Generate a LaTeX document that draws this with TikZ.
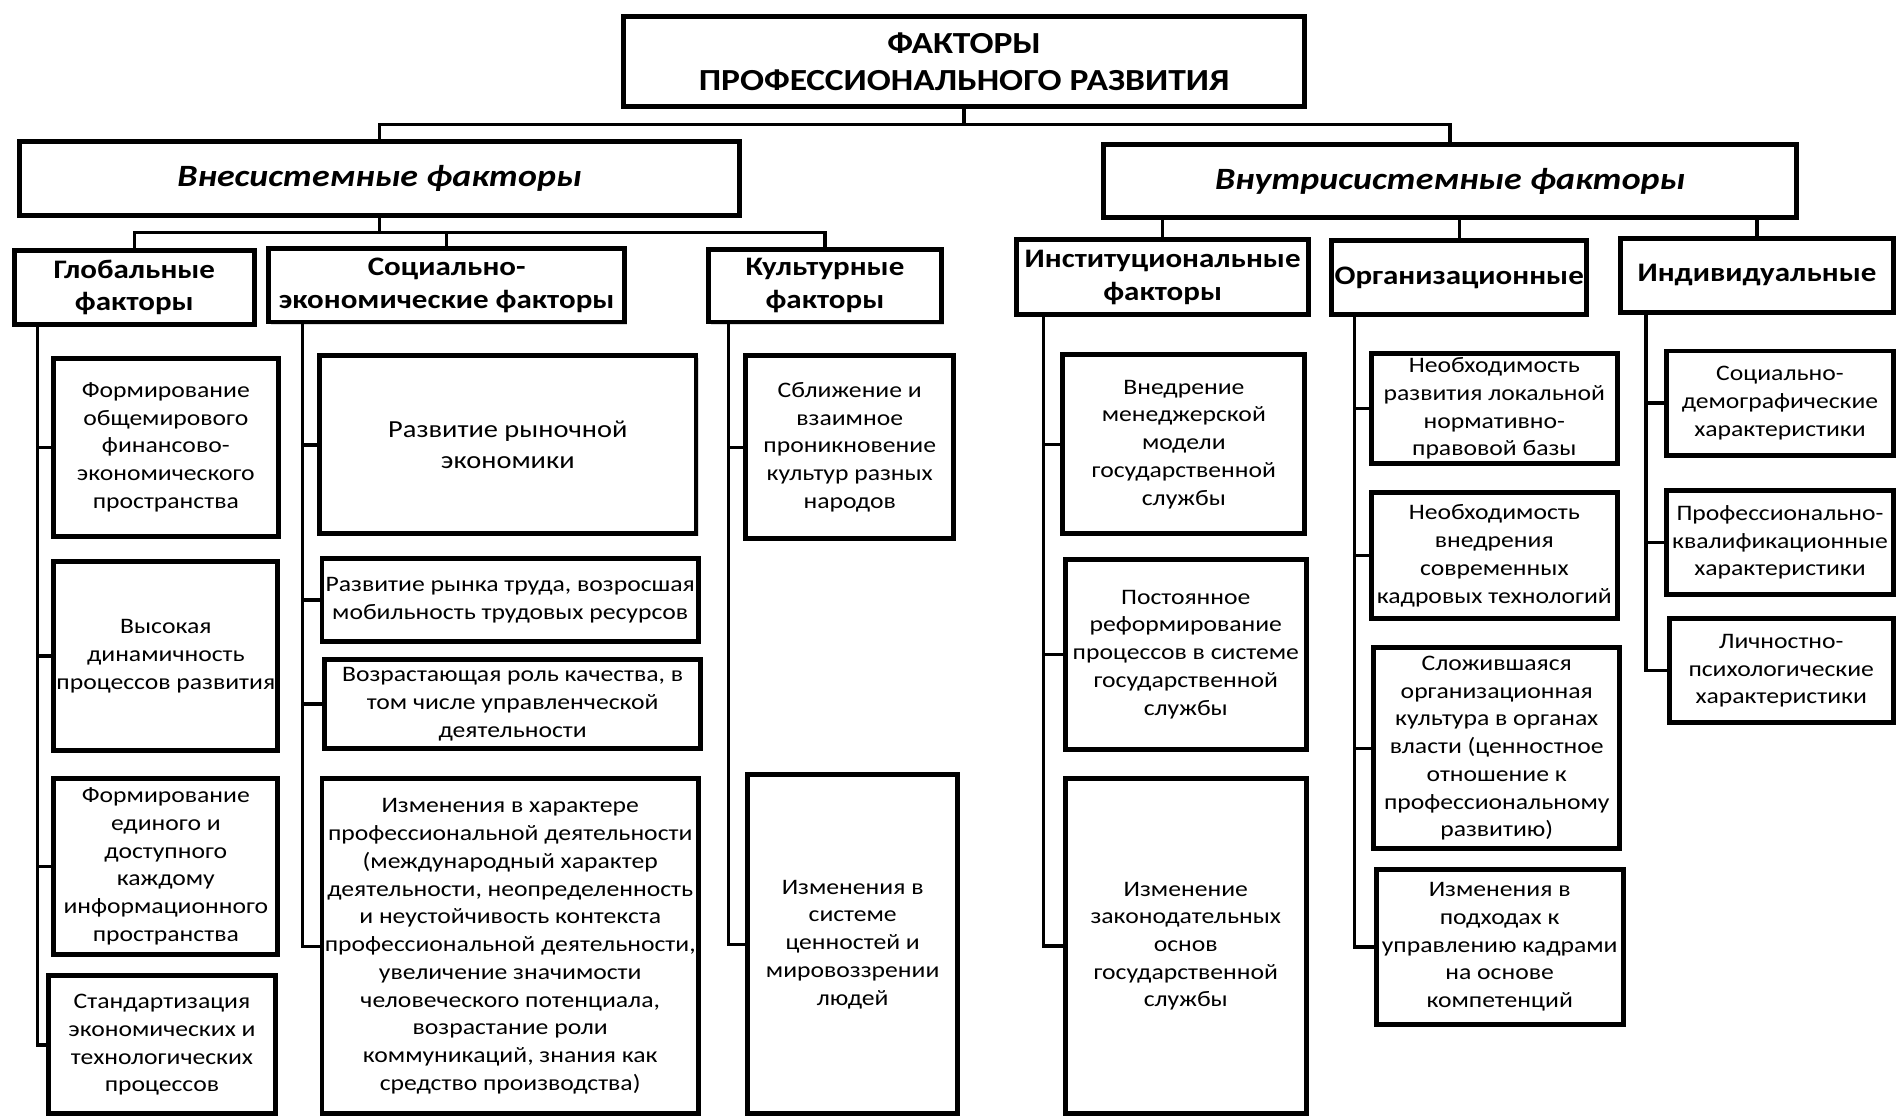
\documentclass[tikz,border=0pt]{standalone}
\usepackage{fontspec}
\setmainfont{Carlito}[FakeStretch=1.16]
\usepackage{tikz}
\usetikzlibrary{positioning,shadows}

\tikzstyle{factorbox} = [
    rectangle,                 % Shape
    draw=black,                % Border color
    line width=2.9pt,          % Heavy border
    fill=white,
    align=center,              % Centered text
    inner sep=1pt,
    drop shadow={shadow xshift=1.5pt, shadow yshift=-1.5pt, opacity=0.3}
]
\tikzstyle{titlenode} = [factorbox, font=\fontsize{18}{22}\selectfont\bfseries]
\tikzstyle{groupnode} = [factorbox, font=\fontsize{18.2}{22}\selectfont\bfseries\itshape]
\tikzstyle{headnode} = [factorbox, font=\fontsize{15.7}{19.2}\selectfont\bfseries]
\tikzstyle{itemnode} = [factorbox, font=\fontsize{13}{16.3}\selectfont]
\tikzstyle{link} = [line width=2pt]

\begin{document}
\begin{tikzpicture}
		\useasboundingbox (0,0) rectangle (39.2,-23.075);

		% Top-level node
		\node[titlenode, minimum width=14.075cm, minimum height=1.85cm] (title) at (19.9125,-1.275)
			{ФАКТОРЫ\\ПРОФЕССИОНАЛЬНОГО РАЗВИТИЯ};

		% Two groups
		\node[groupnode, minimum width=14.875cm, minimum height=1.525cm] (vne) at (7.8375,-3.6875) {Внесистемные факторы};
		\node[groupnode, minimum width=14.3cm, minimum height=1.525cm] (vnu) at (29.95,-3.7375) {Внутрисистемные факторы};

		% Outside-system factors
		\node[headnode, minimum width=4.95cm, minimum height=1.525cm] (glob) at (2.775,-5.9375) {Глобальные\\факторы};
		\node[headnode, minimum width=7.35cm, minimum height=1.525cm] (soc) at (9.225,-5.8875) {Социально-\\экономические факторы};
		\node[headnode, minimum width=4.825cm, minimum height=1.5cm] (kul) at (17.0375,-5.9) {Культурные\\факторы};

		% Inside-system factors
		\node[headnode, minimum width=6.025cm, minimum height=1.55cm] (inst) at (24.0125,-5.725) {Институциональные\\факторы};
		\node[headnode, minimum width=5.275cm, minimum height=1.525cm] (org) at (30.1375,-5.7375) {Организационные};
		\node[headnode, minimum width=5.625cm, minimum height=1.525cm] (ind) at (36.2875,-5.6875) {Индивидуальные};

		% Global
		\node[itemnode, minimum width=4.65cm, minimum height=3.675cm] (g1) at (3.425,-9.2375)
			{Формирование\\общемирового\\финансово-\\экономического\\пространства};
		\node[itemnode, minimum width=4.625cm, minimum height=3.9cm, below=0.425cm of g1] (g2)
			{Высокая\\динамичность\\процессов развития};
		\node[itemnode, minimum width=4.625cm, minimum height=3.625cm, below=0.475cm of g2] (g3)
			{Формирование\\единого и\\доступного\\каждому\\информационного\\пространства};
		\node[itemnode, minimum width=4.675cm, minimum height=2.85cm, below=0.35cm of g3, xshift=-0.08cm] (g4)
			{Стандартизация\\экономических и\\технологических\\процессов};

		% Socio-economic
		\node[itemnode, minimum width=7.775cm, minimum height=3.675cm, font=\fontsize{14.4}{17.8}\selectfont] (s1) at (10.4875,-9.1875)
			{Развитие рыночной\\экономики};
		\node[itemnode, minimum width=7.775cm, minimum height=1.725cm, below=0.4cm of s1, xshift=0.05cm] (s2)
			{Развитие рынка труда, возросшая\\мобильность трудовых ресурсов};
		\node[itemnode, minimum width=7.775cm, minimum height=1.825cm, below=0.275cm of s2, xshift=0.05cm] (s3)
			{Возрастающая роль качества, в\\том числе управленческой\\деятельности};
		\node[itemnode, minimum width=7.775cm, minimum height=6.925cm, below=0.525cm of s3, xshift=-0.05cm] (s4)
			{Изменения в характере\\профессиональной деятельности\\(международный характер\\деятельности, неопределенность\\и неустойчивость контекста\\профессиональной деятельности,\\увеличение значимости\\человеческого потенциала,\\возрастание роли\\коммуникаций, знания как\\средство производства)};

		% Cultural
		\node[itemnode, minimum width=4.3cm, minimum height=3.775cm] (k1) at (17.55,-9.2375)
			{Сближение и\\взаимное\\проникновение\\культур разных\\народов};
		\node[itemnode, minimum width=4.325cm, minimum height=7cm, below=4.775cm of k1, xshift=0.06cm] (k2)
			{Изменения в\\системе\\ценностей и\\мировоззрении\\людей};

		% Institutional
		\node[itemnode, minimum width=5cm, minimum height=3.7cm] (i1) at (24.45,-9.175)
			{Внедрение\\менеджерской\\модели\\государственной\\службы};
		\node[itemnode, minimum width=4.975cm, minimum height=3.925cm, below=0.425cm of i1, xshift=0.04cm] (i2)
			{Постоянное\\реформирование\\процессов в системе\\государственной\\службы};
		\node[itemnode, minimum width=4.975cm, minimum height=6.925cm, below=0.5cm of i2] (i3)
			{Изменение\\законодательных\\основ\\государственной\\службы};

		% Organizational
		\node[itemnode, minimum width=5.075cm, minimum height=2.275cm] (o1) at (30.8625,-8.4375)
			{Необходимость\\развития локальной\\нормативно-\\правовой базы};
		\node[itemnode, minimum width=5.075cm, minimum height=2.6cm, below=0.5cm of o1] (o2)
			{Необходимость\\внедрения\\современных\\кадровых технологий};
		\node[itemnode, minimum width=5.075cm, minimum height=4.15cm, below=0.5cm of o2, xshift=0.05cm] (o3)
			{Сложившаяся\\организационная\\культура в органах\\власти (ценностное\\отношение к\\профессиональному\\развитию)};
		\node[itemnode, minimum width=5.1cm, minimum height=3.2cm, below=0.325cm of o3, xshift=0.06cm] (o4)
			{Изменения в\\подходах к\\управлению кадрами\\на основе\\компетенций};

		% Individual
		\node[itemnode, minimum width=4.675cm, minimum height=2.15cm] (d1) at (36.7625,-8.325)
			{Социально-\\демографические\\характеристики};
		\node[itemnode, minimum width=4.675cm, minimum height=2.15cm, below=0.625cm of d1] (d2)
			{Профессионально-\\квалификационные\\характеристики};
		\node[itemnode, minimum width=4.625cm, minimum height=2.15cm, below=0.4cm of d2, xshift=0.025cm] (d3)
			{Личностно-\\психологические\\характеристики};

		% Links from the top
		\draw[link] (title.south) -- ++(0,-0.325) -| (vne);
		\draw[link] (title.south) -- ++(0,-0.325) -| (vnu);

		\draw[link] (vne.south) -- ++(0,-0.3) -| (glob);
		\draw[link] (vne.south) -- ++(0,-0.3) -| (soc);
		\draw[link] (vne.south) -- ++(0,-0.3) -| (kul);

		\draw[link] (inst.north) -- (inst.north |- vnu.south);
		\draw[link] (org.north) -- (org.north |- vnu.south);
		\draw[link] (ind.north) -- (ind.north |- vnu.south);

		% Links to items
		\draw[link] ([xshift=0.525cm]glob.south west) |- (g1);
		\draw[link] ([xshift=0.525cm]glob.south west) |- (g2);
		\draw[link] ([xshift=0.525cm]glob.south west) |- (g3);
		\draw[link] ([xshift=0.525cm]glob.south west) |- (g4);

		\draw[link] ([xshift=0.75cm]soc.south west) |- (s1);
		\draw[link] ([xshift=0.75cm]soc.south west) |- (s2);
		\draw[link] ([xshift=0.75cm]soc.south west) |- (s3);
		\draw[link] ([xshift=0.75cm]soc.south west) |- (s4);

		\draw[link] ([xshift=0.475cm]kul.south west) |- (k1);
		\draw[link] ([xshift=0.475cm]kul.south west) |- (k2);

		\draw[link] ([xshift=0.6cm]inst.south west) |- (i1);
		\draw[link] ([xshift=0.6cm]inst.south west) |- (i2);
		\draw[link] ([xshift=0.6cm]inst.south west) |- (i3);

		\draw[link] ([xshift=0.525cm]org.south west) |- (o1);
		\draw[link] ([xshift=0.525cm]org.south west) |- (o2);
		\draw[link] ([xshift=0.525cm]org.south west) |- (o3);
		\draw[link] ([xshift=0.525cm]org.south west) |- (o4);

		\draw[link] ([xshift=0.575cm]ind.south west) |- (d1);
		\draw[link] ([xshift=0.575cm]ind.south west) |- (d2);
		\draw[link] ([xshift=0.575cm]ind.south west) |- (d3);
	\end{tikzpicture}
\end{document}
